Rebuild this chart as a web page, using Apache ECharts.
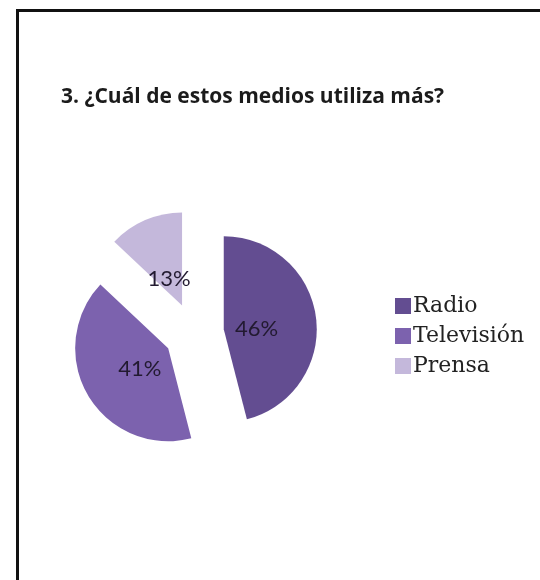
<!DOCTYPE html>
<html>
<head>
<meta charset="utf-8">
<script src="https://cdn.jsdelivr.net/npm/echarts@6/dist/echarts.min.js"></script>
<style>
  html, body { margin: 0; padding: 0; background: #fff; }
  #chart { width: 540px; height: 580px; }
</style>
</head>
<body>
<div id="chart"></div>
<script>
// Survey answers: which medium is used most
const categories = ['Radio', 'Televisión', 'Prensa'];
const shares = [46, 41, 13];
const sliceColors = ['#634d91', '#7c62ae', '#c4b8db'];

const slices = categories.map((name, i) => ({
  name: name,
  value: shares[i],
  selected: true,
  itemStyle: { color: sliceColors[i] }
}));

const chart = echarts.init(document.getElementById('chart'), null, { renderer: 'canvas' });

chart.setOption({
  animation: false,
  backgroundColor: '#ffffff',
  title: {
    text: '3. ¿Cuál de estos medios utiliza más?',
    left: 56,
    top: 82,
    textStyle: {
      fontFamily: 'Open Sans',
      fontWeight: 'bold',
      fontSize: 21,
      color: '#1b1b1b'
    }
  },
  legend: {
    orient: 'vertical',
    left: 390,
    top: 290,
    itemWidth: 16,
    itemHeight: 16,
    itemGap: 8,
    icon: 'rect',
    data: categories,
    selectedMode: false,
    textStyle: {
      fontFamily: 'DejaVu Serif',
      fontSize: 22,
      color: '#222222',
      padding: [0, 0, 0, -3]
    }
  },
  graphic: [{
    type: 'rect',
    shape: { x: 17.5, y: 10.5, width: 700, height: 800 },
    style: { fill: 'none', stroke: '#111', lineWidth: 3 },
    silent: true
  }],
  series: [
    {
      name: 'Medios',
      type: 'pie',
      center: [194, 333],
      radius: 93,
      startAngle: 90,
      clockwise: true,
      selectedMode: 'multiple',
      selectedOffset: 30,
      label: { show: false },
      labelLine: { show: false },
      emphasis: { disabled: true },
      data: slices
    },
    {
      // percentage labels, kept close to each slice's tip
      name: 'Etiquetas',
      type: 'pie',
      center: [194, 337],
      radius: 60,
      startAngle: 90,
      clockwise: true,
      selectedMode: 'multiple',
      selectedOffset: 30,
      silent: true,
      itemStyle: { color: 'rgba(0,0,0,0)' },
      label: {
        show: true,
        position: 'inside',
        formatter: '{c}%',
        fontFamily: 'Lato',
        fontSize: 22,
        color: '#221a30'
      },
      labelLine: { show: false },
      emphasis: { disabled: true },
      data: categories.map((name, i) => ({
        name: name,
        value: shares[i],
        selected: true,
        itemStyle: { color: 'rgba(0,0,0,0)' }
      }))
    }
  ]
});
</script>
</body>
</html>
